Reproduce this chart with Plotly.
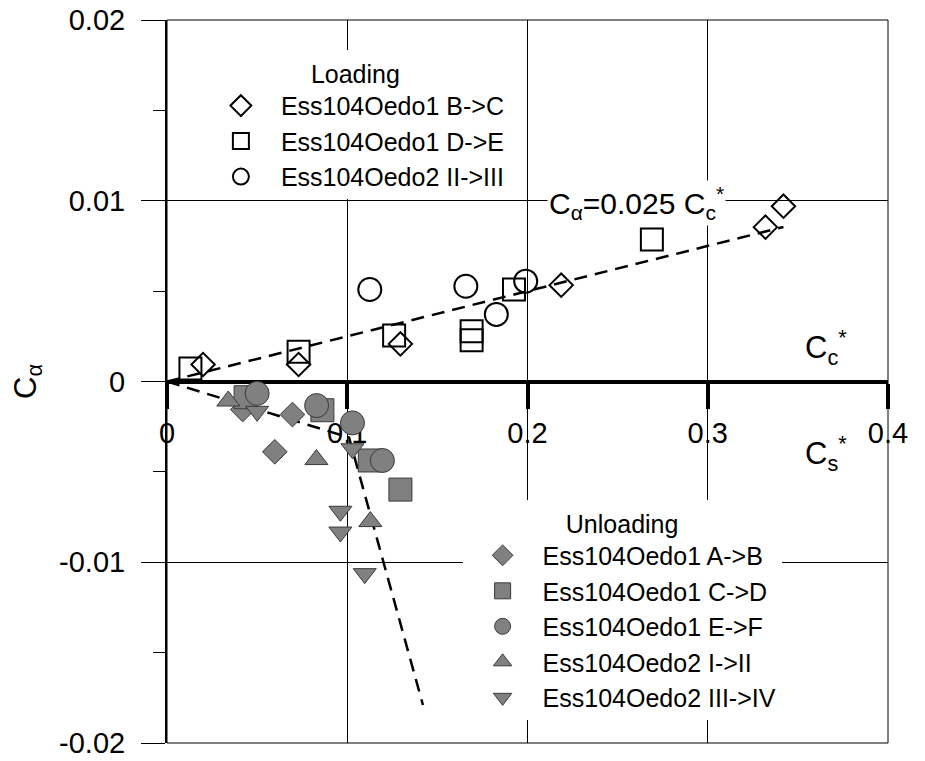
import plotly.graph_objects as go

# ---------------- data ----------------
# Loading (open symbols)
load_BC_x = [0.020, 0.073, 0.1295, 0.2187, 0.332, 0.342]
load_BC_y = [0.00094, 0.00094, 0.00208, 0.00533, 0.00854, 0.0097]
load_DE_x = [0.013, 0.073, 0.126, 0.169, 0.169, 0.1925, 0.269]
load_DE_y = [0.00072, 0.00165, 0.00254, 0.00278, 0.00228, 0.00509, 0.00786]
load_IIIII_x = [0.1125, 0.1658, 0.1827, 0.199]
load_IIIII_y = [0.00509, 0.00527, 0.00371, 0.00555]

# Unloading (filled grey symbols)
unl_AB_x = [0.042, 0.0598, 0.0696]
unl_AB_y = [-0.00155, -0.00389, -0.00183]
unl_CD_x = [0.0436, 0.0862, 0.1125, 0.1295]
unl_CD_y = [-0.00087, -0.00159, -0.00437, -0.00598]
unl_EF_x = [0.050, 0.083, 0.1029, 0.1195]
unl_EF_y = [-0.00066, -0.00133, -0.00229, -0.00437]
unl_III_x = [0.034, 0.0829, 0.1128]
unl_III_y = [-0.00108, -0.00432, -0.00775]
unl_IIIIV_x = [0.050, 0.1029, 0.0962, 0.0962, 0.1097]
unl_IIIIV_y = [-0.00165, -0.00372, -0.00718, -0.00833, -0.01063]

# Trend lines
fit_load_x = [0.0, 0.342]
fit_load_y = [0.0, 0.00855]
fit_unl_x = [0.0, 0.101, 0.142]
fit_unl_y = [0.0, -0.0031, -0.0179]

x_ticks = [0, 0.1, 0.2, 0.3, 0.4]
x_ticktext = ["0", "0.1", "0.2", "0.3", "0.4"]
y_ticks = [-0.02, -0.01, 0, 0.01, 0.02]
y_ticktext = ["-0.02", "-0.01", "0", "0.01", "0.02"]
y_minor = [-0.015, -0.005, 0.005, 0.015]

FONT = "Liberation Sans, Arial, sans-serif"
GREY = "#808080"
EDGE = "#3a3a3a"

fig = go.Figure()

dash = "13px,8px"
fig.add_trace(go.Scatter(x=fit_load_x, y=fit_load_y, mode="lines",
                         line=dict(color="black", width=2.5, dash=dash),
                         showlegend=False, hoverinfo="skip"))
fig.add_trace(go.Scatter(x=fit_unl_x, y=fit_unl_y, mode="lines",
                         line=dict(color="black", width=2.5, dash=dash),
                         showlegend=False, hoverinfo="skip"))

def open_trace(x, y, sym, size, name):
    return go.Scatter(x=x, y=y, mode="markers", name=name, legend="legend",
                      marker=dict(symbol=sym, size=size, color="black",
                                  line=dict(color="black", width=2)))

def fill_trace(x, y, sym, size, name):
    return go.Scatter(x=x, y=y, mode="markers", name=name, legend="legend2",
                      marker=dict(symbol=sym, size=size, color=GREY,
                                  line=dict(color=EDGE, width=1)))

fig.add_trace(open_trace(load_BC_x, load_BC_y, "diamond-open", 18, "Ess104Oedo1 B->C"))
fig.add_trace(open_trace(load_DE_x, load_DE_y, "square-open", 22, "Ess104Oedo1 D->E"))
fig.add_trace(open_trace(load_IIIII_x, load_IIIII_y, "circle-open", 23, "Ess104Oedo2 II->III"))

fig.add_trace(fill_trace(unl_AB_x, unl_AB_y, "diamond", 19, "Ess104Oedo1 A->B"))
fig.add_trace(fill_trace(unl_CD_x, unl_CD_y, "square", 23, "Ess104Oedo1 C->D"))
fig.add_trace(fill_trace(unl_EF_x, unl_EF_y, "circle", 24, "Ess104Oedo1 E->F"))
fig.add_trace(fill_trace(unl_III_x, unl_III_y, "triangle-up", 20, "Ess104Oedo2 I->II"))
fig.add_trace(fill_trace(unl_IIIIV_x, unl_IIIIV_y, "triangle-down", 20, "Ess104Oedo2 III->IV"))

# the page body adds an 8px offset, so margins are shifted by 8px
fig.update_layout(
    width=925, height=761,
    margin=dict(l=159, r=45, t=12, b=26),
    paper_bgcolor="white", plot_bgcolor="white",
    font=dict(family=FONT, color="black", size=25),
    xaxis=dict(range=[0, 0.4], tickmode="array", tickvals=x_ticks, ticktext=x_ticktext,
               anchor="free", position=0.5, showline=True, linewidth=4, linecolor="black",
               ticks="outside", ticklen=25, tickwidth=4, tickcolor="black",
               showgrid=True, gridcolor="black", gridwidth=1, zeroline=False,
               tickfont=dict(size=29), layer="below traces", fixedrange=True,
               automargin=False, ticklabeloverflow="allow"),
    yaxis=dict(range=[-0.02, 0.02], tickmode="array", tickvals=y_ticks, ticktext=y_ticktext,
               showline=True, linewidth=2, linecolor="black",
               ticks="outside", ticklen=24, tickwidth=1, tickcolor="black",
               minor=dict(tickmode="array", tickvals=y_minor, ticks="outside", ticklen=12,
                          tickwidth=1, tickcolor="black", showgrid=False),
               showgrid=True, gridcolor="black", gridwidth=1, zeroline=False,
               tickfont=dict(size=29), automargin=False, fixedrange=True,
               ticklabeloverflow="allow", ticklabelstandoff=10,
               title=dict(text="C<sub>α</sub>", font=dict(size=31), standoff=14)),
    legend=dict(title=dict(text="Loading", side="top center", font=dict(size=25)),
                x=0.047, y=0.958, xanchor="left", yanchor="top",
                bgcolor="white", borderwidth=0, itemwidth=70,
                font=dict(size=25), tracegroupgap=0),
    legend2=dict(title=dict(text="Unloading", side="top center", font=dict(size=25)),
                 x=0.41, y=0.336, xanchor="left", yanchor="top",
                 bgcolor="white", borderwidth=0, itemwidth=70,
                 font=dict(size=25), tracegroupgap=0),
    shapes=[dict(type="rect", xref="paper", yref="paper", x0=0, y0=0, x1=1, y1=1,
                 line=dict(color="black", width=1), layer="above")],
    annotations=[
        dict(x=0.2605, y=0.0099, xref="x", yref="y", showarrow=False,
             text="C<sub>α</sub>=0.025 C<sub>c</sub><sup>*</sup>",
             font=dict(size=30), bgcolor="white"),
        dict(x=0.3655, y=0.0019, xref="x", yref="y", showarrow=False,
             text="C<sub>c</sub><sup>*</sup>", font=dict(size=31)),
        dict(x=0.3655, y=-0.0040, xref="x", yref="y", showarrow=False,
             text="C<sub>s</sub><sup>*</sup>", font=dict(size=31)),
    ],
)

fig.write_html("out.html")
